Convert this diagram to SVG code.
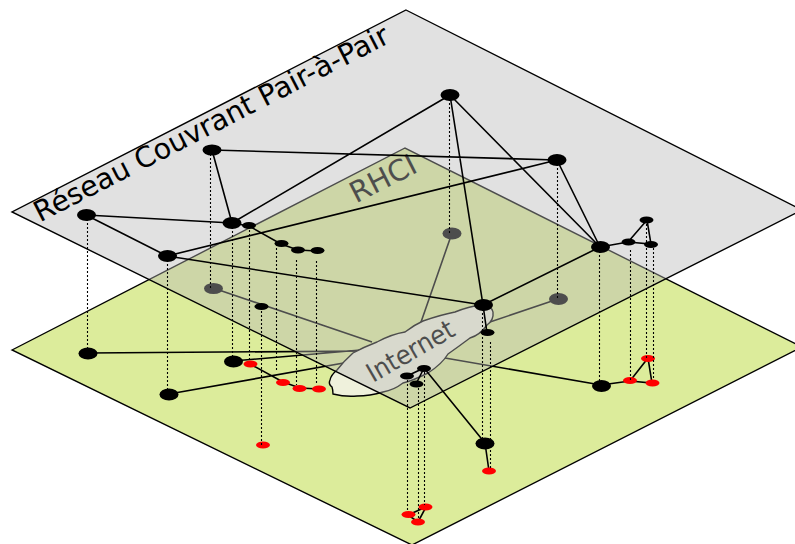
<svg xmlns="http://www.w3.org/2000/svg" width="795" height="544" viewBox="0 0 795 544">
<style>
.t{font-family:"DejaVu Sans",sans-serif}
.l{stroke:#000;stroke-width:1.6;fill:none}
.d{stroke:#000;stroke-width:1.1;stroke-dasharray:2 2;fill:none}
.b{fill:#000}
.r{fill:#f00}
</style>
<g id="plan-bas"><polygon points="12,350 405,148 802,347 412,545" fill="#dcec9b" stroke="#000" stroke-width="1.4"/></g>
<g id="texte-rhci"><text class="t" font-size="29" transform="translate(356,203.500) rotate(-27)" fill="#000">RHCI</text></g>
<g id="connecteurs-bas">
<path class="l" d="M88,353L372,351M233,361L372,349M169,394L372,358M213,288L372,342M452,233L420,325M558,299L490,322M601,385L445,358M250,364L283,382L300,388L319,389M601,385L630,381M630,381L648,358L652,383L630,381M485,443L489,471M418,522L408,515L426,507L418,522"/>
</g>
<g id="n-g1"><ellipse class="b" cx="88" cy="353.500" rx="9.500" ry="6"/></g>
<g id="n-g2"><ellipse class="b" cx="169" cy="394.500" rx="9.500" ry="6"/></g>
<g id="n-g3"><ellipse class="b" cx="213.500" cy="288.500" rx="9.500" ry="5.500"/></g>
<g id="n-g4"><ellipse class="b" cx="233.500" cy="361.500" rx="9.500" ry="6"/></g>
<g id="n-g5"><ellipse class="b" cx="452" cy="233.500" rx="9.500" ry="6"/></g>
<g id="n-g6"><ellipse class="b" cx="558.500" cy="299" rx="9.500" ry="6"/></g>
<g id="n-g7"><ellipse class="b" cx="601.500" cy="386" rx="9.500" ry="6"/></g>
<g id="n-g8"><ellipse class="b" cx="485" cy="443.500" rx="9.500" ry="6"/></g>
<g id="n-r1"><ellipse class="r" cx="250.500" cy="364" rx="7" ry="3.500"/></g>
<g id="n-r2"><ellipse class="r" cx="283" cy="382.500" rx="7" ry="3.500"/></g>
<g id="n-r3"><ellipse class="r" cx="299.500" cy="388.500" rx="7" ry="3.500"/></g>
<g id="n-r4"><ellipse class="r" cx="319" cy="389" rx="7" ry="3.500"/></g>
<g id="n-r5"><ellipse class="r" cx="263" cy="445" rx="7" ry="3.500"/></g>
<g id="n-r6"><ellipse class="r" cx="648" cy="358.500" rx="7" ry="3.500"/></g>
<g id="n-r7"><ellipse class="r" cx="630" cy="380.500" rx="7" ry="3.500"/></g>
<g id="n-r8"><ellipse class="r" cx="652.500" cy="383" rx="7" ry="3.500"/></g>
<g id="n-r9"><ellipse class="r" cx="489" cy="471" rx="7" ry="3.500"/></g>
<g id="n-r10"><ellipse class="r" cx="408.500" cy="514.500" rx="7" ry="3.500"/></g>
<g id="n-r11"><ellipse class="r" cx="425.500" cy="507" rx="7" ry="3.500"/></g>
<g id="n-r12"><ellipse class="r" cx="418" cy="522" rx="7" ry="3.500"/></g>
<g id="internet">
<path d="M330,380Q331,375 337,370Q344,361 353,353Q364,347 377,342Q392,334 405,332Q414,325 423,321Q440,315 455,312Q470,306 482,305Q492,306 493,312Q494,320 487,325Q480,335 470,338Q458,347 448,354Q442,364 428,373Q412,381 403,383Q394,390 383,392Q370,396 357,396Q345,397 333,394Q333,390 332,387Q328,384 330,380Z" fill="#eff1dc" stroke="#000" stroke-width="1.4"/>
<text class="t" font-size="26.500" transform="translate(373,383) rotate(-30) scale(.92,1)" fill="#000">Internet</text>
</g>
<g id="plan-haut"><polygon points="406,10 802,210 410,408 12,212" fill="#b7b7b7" fill-opacity="0.42"/><polygon points="406,10 802,210 410,408 12,212" fill="none" stroke="#000" stroke-width="1.4"/></g>
<g id="texte-titre"><text class="t" font-size="28.500" transform="translate(40,222.500) rotate(-27.200)" fill="#000">Réseau Couvrant Pair-à-Pair</text></g>
<g id="connecteurs-haut">
<path class="d" d="M87.500,215V353M167.500,256V394M210.500,150V288M232.500,223V360M249.500,226V360M276.500,244V372M296.500,260V385M316.500,261V385M261.500,307V445M449.500,95V233M557.500,160V299M599.500,247V385M630.500,250V380M646.500,220V358M653.500,244V380M482.500,305V443M490.500,342V468M407.500,376V510M424.500,368V505M418.500,384V518"/>
<path class="l" d="M86,215L232,223M86,215L167,256M212,150L232,223M212,150L557,160M232,223L450,95M167,256L557,160M167,256L483,305M450,95L483,305M450,95L600,247M557,160L600,247M483,305L600,247M232,223L249,226L281,244L298,250L317,251M600,247L628,242L651,244L647,220L628,242M483,305L487,333M407,376L424,368L416,384M424,368L485,443"/>
</g>
<g id="n1"><ellipse class="b" cx="86.500" cy="215" rx="9.500" ry="6"/></g>
<g id="n2"><ellipse class="b" cx="212" cy="150" rx="9.500" ry="5.500"/></g>
<g id="n3"><ellipse class="b" cx="232" cy="223" rx="9.500" ry="6"/></g>
<g id="n4"><ellipse class="b" cx="167.500" cy="256" rx="9.500" ry="6"/></g>
<g id="n5"><ellipse class="b" cx="450" cy="95" rx="9.500" ry="6"/></g>
<g id="n6"><ellipse class="b" cx="557" cy="160" rx="9.500" ry="6"/></g>
<g id="n7"><ellipse class="b" cx="600.500" cy="247" rx="9.500" ry="6"/></g>
<g id="n8"><ellipse class="b" cx="483.500" cy="305" rx="9.500" ry="6"/></g>
<g id="n9"><ellipse class="b" cx="249" cy="225.500" rx="7" ry="3.500"/></g>
<g id="n10"><ellipse class="b" cx="281.500" cy="243.500" rx="7" ry="3.500"/></g>
<g id="n11"><ellipse class="b" cx="298" cy="250" rx="7" ry="3.500"/></g>
<g id="n12"><ellipse class="b" cx="317.500" cy="250.500" rx="7" ry="3.500"/></g>
<g id="n13"><ellipse class="b" cx="261.500" cy="306.500" rx="7" ry="3.500"/></g>
<g id="n14"><ellipse class="b" cx="628.500" cy="242" rx="7" ry="3.500"/></g>
<g id="n15"><ellipse class="b" cx="646.500" cy="220" rx="7" ry="3.500"/></g>
<g id="n16"><ellipse class="b" cx="651" cy="244.500" rx="7" ry="3.500"/></g>
<g id="n17"><ellipse class="b" cx="487.500" cy="332.500" rx="7" ry="3.500"/></g>
<g id="n18"><ellipse class="b" cx="407" cy="376" rx="7" ry="3.500"/></g>
<g id="n19"><ellipse class="b" cx="424" cy="368.500" rx="7" ry="3.500"/></g>
<g id="n20"><ellipse class="b" cx="416.500" cy="384" rx="7" ry="3.500"/></g>
</svg>
